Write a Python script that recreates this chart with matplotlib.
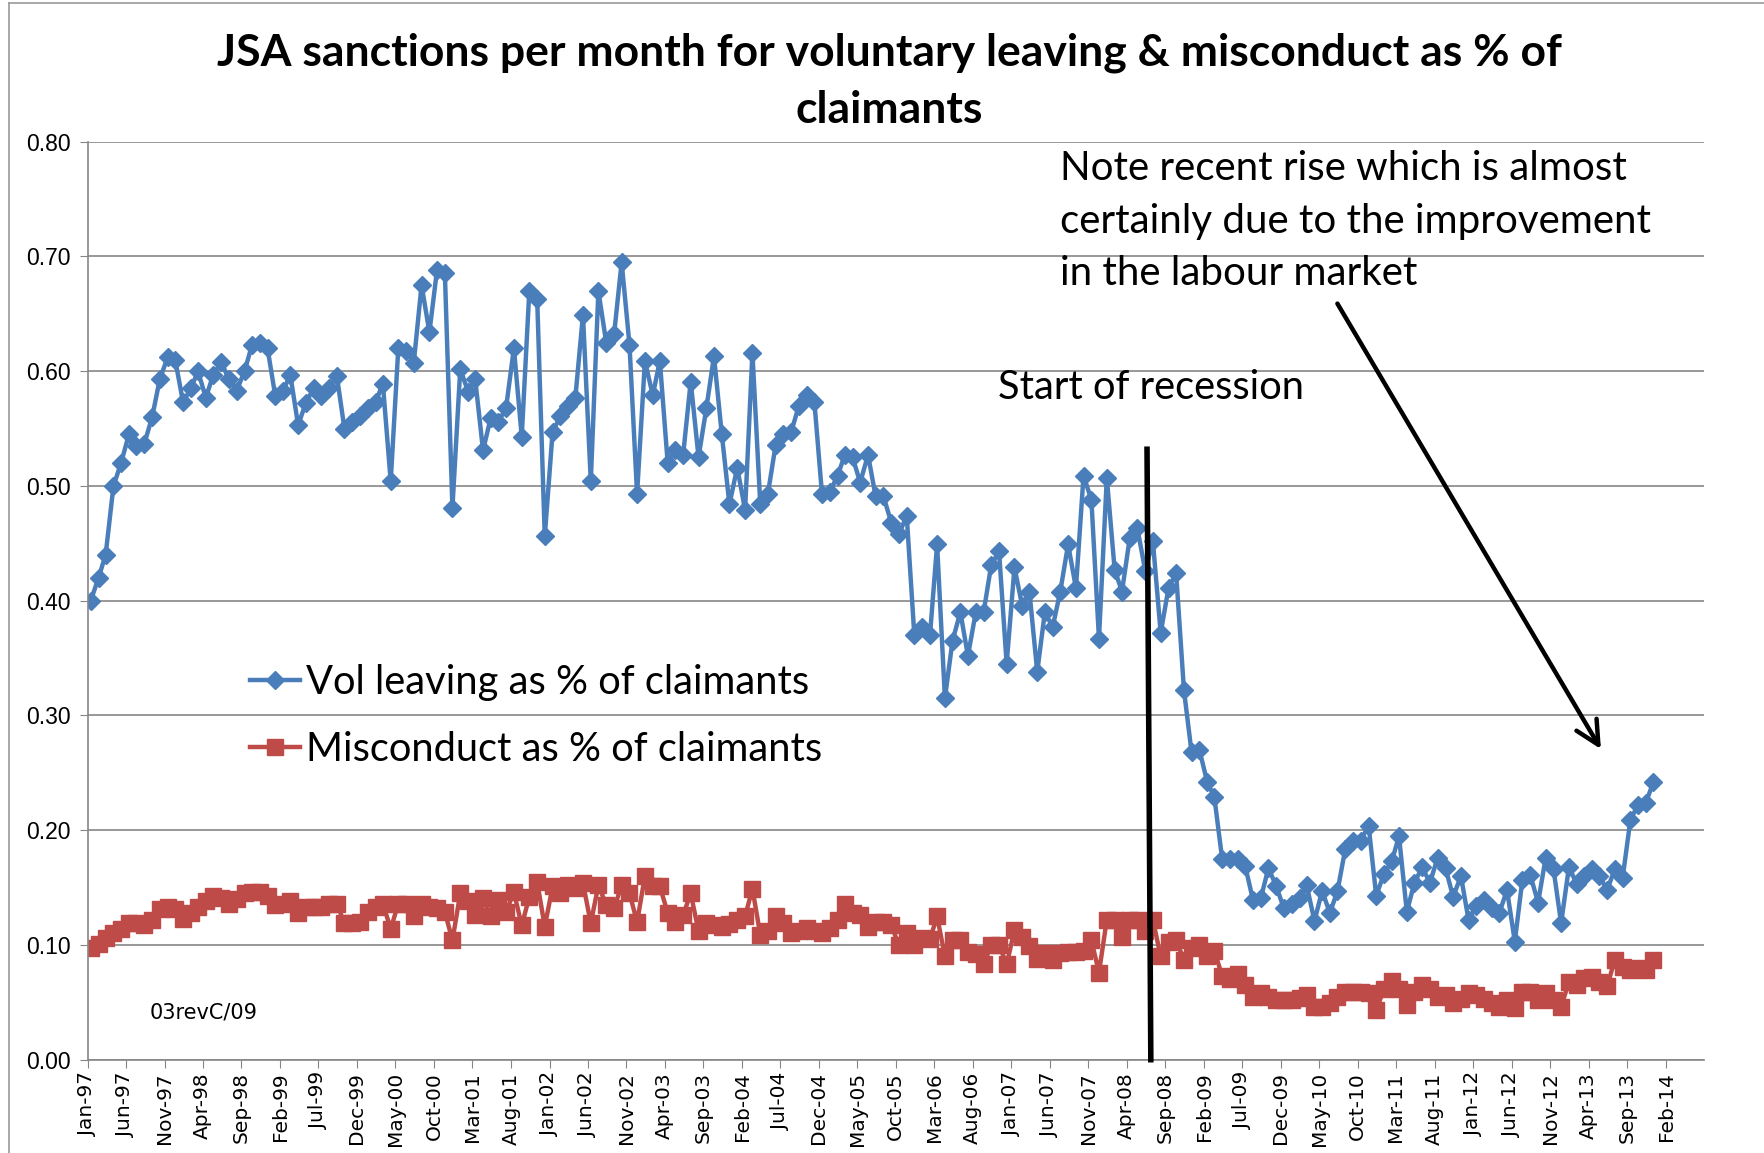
import numpy as np
import pandas as pd
import matplotlib
matplotlib.use('Agg')
import matplotlib.pyplot as plt
import matplotlib.dates as mdates
from matplotlib.lines import Line2D

# JSA sanctions as % of claimants, monthly Jan-97 .. Dec-13
vol_leaving = [
    0.400, 0.420, 0.440, 0.500, 0.520, 0.545, 0.535, 0.537, 0.560, 0.593, 0.612, 0.610,
    0.573, 0.585, 0.600, 0.577, 0.597, 0.608, 0.593, 0.583, 0.600, 0.623, 0.625, 0.620,
    0.578, 0.583, 0.597, 0.553, 0.572, 0.585, 0.578, 0.585, 0.596, 0.550, 0.556, 0.561,
    0.568, 0.573, 0.589, 0.504, 0.620, 0.618, 0.607, 0.675, 0.634, 0.688, 0.686, 0.481,
    0.602, 0.582, 0.593, 0.531, 0.559, 0.556, 0.568, 0.620, 0.543, 0.670, 0.663, 0.456,
    0.547, 0.561, 0.570, 0.577, 0.649, 0.504, 0.670, 0.625, 0.632, 0.695, 0.623, 0.493,
    0.609, 0.579, 0.609, 0.520, 0.531, 0.527, 0.591, 0.525, 0.568, 0.613, 0.545, 0.484,
    0.516, 0.479, 0.616, 0.484, 0.493, 0.536, 0.545, 0.547, 0.570, 0.579, 0.573, 0.493,
    0.495, 0.509, 0.527, 0.525, 0.503, 0.527, 0.491, 0.491, 0.468, 0.458, 0.474, 0.370,
    0.377, 0.370, 0.449, 0.315, 0.365, 0.390, 0.352, 0.390, 0.390, 0.431, 0.443, 0.345,
    0.429, 0.395, 0.408, 0.338, 0.390, 0.377, 0.408, 0.449, 0.411, 0.509, 0.488, 0.367,
    0.507, 0.427, 0.408, 0.455, 0.463, 0.426, 0.452, 0.372, 0.411, 0.424, 0.322, 0.268,
    0.270, 0.242, 0.229, 0.175, 0.175, 0.175, 0.169, 0.139, 0.141, 0.167, 0.151, 0.132,
    0.136, 0.141, 0.152, 0.121, 0.147, 0.128, 0.147, 0.184, 0.191, 0.191, 0.204, 0.143,
    0.162, 0.173, 0.195, 0.129, 0.154, 0.168, 0.154, 0.176, 0.167, 0.142, 0.160, 0.122,
    0.134, 0.139, 0.132, 0.128, 0.148, 0.103, 0.157, 0.161, 0.137, 0.176, 0.166, 0.119,
    0.168, 0.153, 0.160, 0.166, 0.160, 0.148, 0.166, 0.158, 0.209, 0.222, 0.224, 0.242,
]
misconduct = [
    0.097, 0.101, 0.106, 0.110, 0.114, 0.119, 0.119, 0.117, 0.122, 0.131, 0.133, 0.131,
    0.123, 0.128, 0.133, 0.138, 0.143, 0.141, 0.136, 0.140, 0.145, 0.146, 0.146, 0.143,
    0.135, 0.136, 0.138, 0.128, 0.133, 0.133, 0.133, 0.136, 0.136, 0.119, 0.119, 0.120,
    0.129, 0.133, 0.136, 0.114, 0.136, 0.136, 0.125, 0.136, 0.133, 0.132, 0.129, 0.104,
    0.145, 0.138, 0.126, 0.141, 0.125, 0.139, 0.129, 0.146, 0.117, 0.142, 0.155, 0.116,
    0.151, 0.145, 0.152, 0.150, 0.154, 0.119, 0.152, 0.135, 0.132, 0.152, 0.145, 0.120,
    0.160, 0.151, 0.151, 0.128, 0.120, 0.126, 0.145, 0.112, 0.119, 0.117, 0.116, 0.118,
    0.122, 0.125, 0.149, 0.109, 0.112, 0.125, 0.119, 0.110, 0.112, 0.115, 0.112, 0.110,
    0.115, 0.122, 0.136, 0.128, 0.126, 0.116, 0.120, 0.120, 0.117, 0.100, 0.110, 0.100,
    0.106, 0.105, 0.125, 0.090, 0.104, 0.104, 0.094, 0.092, 0.083, 0.100, 0.100, 0.083,
    0.113, 0.107, 0.099, 0.088, 0.093, 0.087, 0.093, 0.094, 0.094, 0.095, 0.104, 0.076,
    0.122, 0.122, 0.107, 0.122, 0.122, 0.112, 0.122, 0.090, 0.103, 0.104, 0.087, 0.097,
    0.100, 0.090, 0.095, 0.073, 0.070, 0.075, 0.065, 0.055, 0.058, 0.055, 0.052, 0.052,
    0.052, 0.054, 0.056, 0.046, 0.046, 0.049, 0.055, 0.059, 0.059, 0.059, 0.058, 0.043,
    0.062, 0.069, 0.062, 0.048, 0.059, 0.065, 0.062, 0.055, 0.056, 0.049, 0.053, 0.058,
    0.056, 0.053, 0.049, 0.046, 0.052, 0.045, 0.059, 0.059, 0.052, 0.058, 0.052, 0.046,
    0.068, 0.065, 0.071, 0.072, 0.068, 0.064, 0.087, 0.081, 0.078, 0.080, 0.078, 0.087,
]
# figures are dated mid-month
months = pd.date_range('1997-01-01', periods=len(vol_leaving), freq='MS') + pd.Timedelta(days=12)
tick_dates = pd.date_range('1997-01-01', '2014-02-01', freq='5MS')
y_ticks = [0.0, 0.1, 0.2, 0.3, 0.4, 0.5, 0.6, 0.7, 0.8]

# hand drawn marks on the original chart
recession_x = pd.to_datetime(['2008-06-20', '2008-07-05'])
recession_y = [0.532, 0.0]
arrow_from = (pd.Timestamp('2010-07-07'), 0.661)
arrow_to = (pd.Timestamp('2013-05-25'), 0.2686)

blue = '#4A7EBB'
red = '#BE4B48'
grey = '#868686'
txt_font = ['Lato', 'DejaVu Sans']

fig = plt.figure(figsize=(17.64, 11.53), dpi=100)
ax = fig.add_axes([0.0497, 0.0809, 0.9163, 0.7962])

ax.plot(months, vol_leaving, color=blue, lw=3.2, marker='D', ms=9.5,
        label='Vol leaving as % of claimants')
ax.plot(months, misconduct, color=red, lw=3.2, marker='s', ms=11,
        label='Misconduct as % of claimants')
ax.plot(recession_x, recession_y, color='black', lw=4, clip_on=False, zorder=5)
ax.annotate('', xy=arrow_to, xytext=arrow_from,
            arrowprops=dict(arrowstyle='->', lw=3.2, color='black', mutation_scale=42))

ax.set_ylim(0, 0.8)
ax.set_xlim(pd.Timestamp('1997-01-01'), pd.Timestamp('2014-07-01'))
ax.set_yticks(y_ticks)
ax.yaxis.set_major_formatter(plt.FormatStrFormatter('%.2f'))
ax.set_xticks(tick_dates)
ax.xaxis.set_major_formatter(mdates.DateFormatter('%b-%y'))
ax.grid(axis='y', color=grey, lw=1.2)
ax.set_axisbelow(True)
for s in ['top', 'right']:
    ax.spines[s].set_visible(False)
for s in ['left', 'bottom']:
    ax.spines[s].set_color(grey)
    ax.spines[s].set_linewidth(1.2)
ax.tick_params(axis='x', direction='out', length=6, color=grey, rotation=90,
               labelsize=14.5, pad=3)
ax.tick_params(axis='y', direction='out', length=6, color=grey, labelsize=16.5, pad=6)
for lab in ax.get_yticklabels():
    lab.set_family('Liberation Sans')

# title
fig.text(0.504, 0.954, 'JSA sanctions per month for voluntary leaving & misconduct as % of',
         ha='center', va='center', fontsize=32, fontweight='bold', family=txt_font)
fig.text(0.504, 0.905, 'claimants', ha='center', va='center', fontsize=32,
         fontweight='bold', family=txt_font)

note_lines = ['Note recent rise which is almost',
              'certainly due to the improvement',
              'in the labour market']
for line, y in zip(note_lines, [0.8536, 0.8078, 0.7629]):
    fig.text(0.601, y, line, ha='left', va='center', fontsize=29, family=txt_font)
fig.text(0.566, 0.6635, 'Start of recession', ha='left', va='center', fontsize=28.7,
         family=txt_font)
fig.text(0.085, 0.122, '03revC/09', ha='left', va='center', fontsize=15)

ax.legend(loc='center left', bbox_to_anchor=(0.1417, 0.3790),
          bbox_transform=fig.transFigure, frameon=False, borderpad=0,
          borderaxespad=0, handlelength=1.25, handletextpad=0.15,
          labelspacing=0.75, prop={'family': txt_font, 'size': 28.7})

# chart area border (left/top edges visible in the source)
fig.add_artist(Line2D([0.0051, 0.0051], [0, 0.997], color='#9a9a9a', lw=1.2))
fig.add_artist(Line2D([0.0051, 1], [0.997, 0.997], color='#9a9a9a', lw=1.2))

fig.savefig('out.png', dpi=100)
